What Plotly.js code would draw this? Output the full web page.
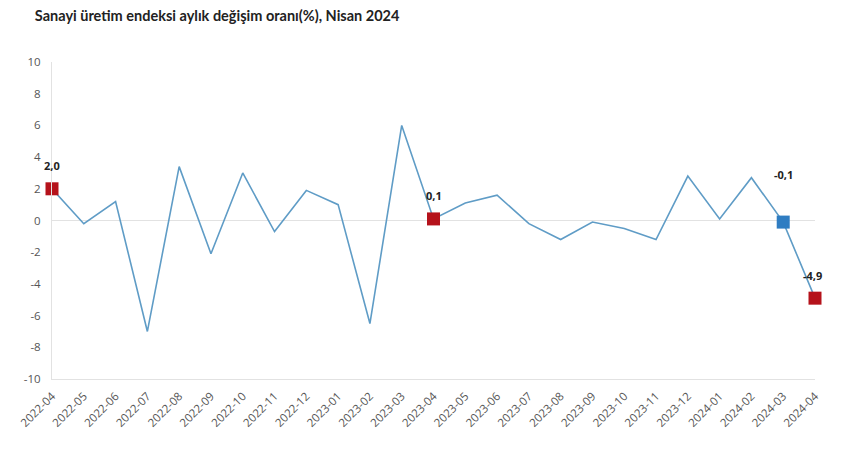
<!DOCTYPE html>
<html>
<head>
<meta charset="utf-8">
<script src="https://cdn.plot.ly/plotly-3.0.1.min.js"></script>
<style>html,body{margin:0;padding:0;background:#fff;}#chart{width:850px;height:451px;}</style>
</head>
<body>
<div id="chart"></div>
<script>
const months = ["2022-04","2022-05","2022-06","2022-07","2022-08","2022-09","2022-10","2022-11","2022-12","2023-01","2023-02","2023-03","2023-04","2023-05","2023-06","2023-07","2023-08","2023-09","2023-10","2023-11","2023-12","2024-01","2024-02","2024-03","2024-04"];
const values = [2.0,-0.2,1.2,-7.0,3.4,-2.1,3.0,-0.7,1.9,1.0,-6.5,6.0,0.1,1.1,1.6,-0.2,-1.2,-0.1,-0.5,-1.2,2.8,0.1,2.7,-0.1,-4.9];
const highlightMonths = ["2022-04","2023-04","2024-03","2024-04"];
const highlightColors = ["#b5121b","#b5121b","#2f7dc2","#b5121b"];
const highlightLabels = ["2,0","0,1","-0,1","-4,9"];
const labelShift = [23,23,48,23];
const yTicks = [-10,-8,-6,-4,-2,0,2,4,6,8,10];

const hlValues = highlightMonths.map(m => values[months.indexOf(m)]);

const data = [
  {x: months, y: values, type: "scatter", mode: "lines",
   line: {color: "#5f9cc6", width: 1.6}, hoverinfo: "x+y", cliponaxis: false},
  {x: highlightMonths, y: hlValues, type: "scatter", mode: "markers",
   marker: {symbol: "square", size: 13, color: highlightColors}, cliponaxis: false}
];

const annotations = highlightMonths.map((m, i) => ({
  x: m, y: hlValues[i], xref: "x", yref: "y", text: highlightLabels[i],
  showarrow: false, yshift: labelShift[i], xshift: (i === 3 ? -3 : 0),
  font: {family: "Open Sans, sans-serif", size: 11, color: "#222", weight: "bold"}
}));

const layout = {
  width: 850, height: 451,
  margin: {l: 52, r: 35, t: 62, b: 72},
  paper_bgcolor: "#fff", plot_bgcolor: "#fff",
  showlegend: false,
  title: {text: "<b>Sanayi üretim endeksi aylık değişim oranı(%), Nisan 2024</b>",
    x: 0.041, xanchor: "left", y: 0.975, yanchor: "top",
    font: {family: "Lato, sans-serif", size: 14.5, color: "#222"}},
  xaxis: {type: "category", range: [0, 24], tickangle: -45,
    showgrid: false, zeroline: false, showline: true, linecolor: "#e2e2e2", linewidth: 1,
    ticks: "", ticklabelstandoff: 5,
    tickfont: {family: "Open Sans, sans-serif", size: 11.5, color: "#555"}},
  yaxis: {range: [-10, 10], tickvals: yTicks, ticktext: yTicks.map(String),
    showgrid: false, zeroline: true, zerolinecolor: "#e2e2e2", zerolinewidth: 1,
    showline: true, linecolor: "#e2e2e2", linewidth: 1, ticks: "", ticklabelstandoff: 8,
    tickfont: {family: "Open Sans, sans-serif", size: 11.5, color: "#555"}},
  annotations: annotations
};

Plotly.newPlot("chart", data, layout, {displayModeBar: false, staticPlot: true});
</script>
</body>
</html>
